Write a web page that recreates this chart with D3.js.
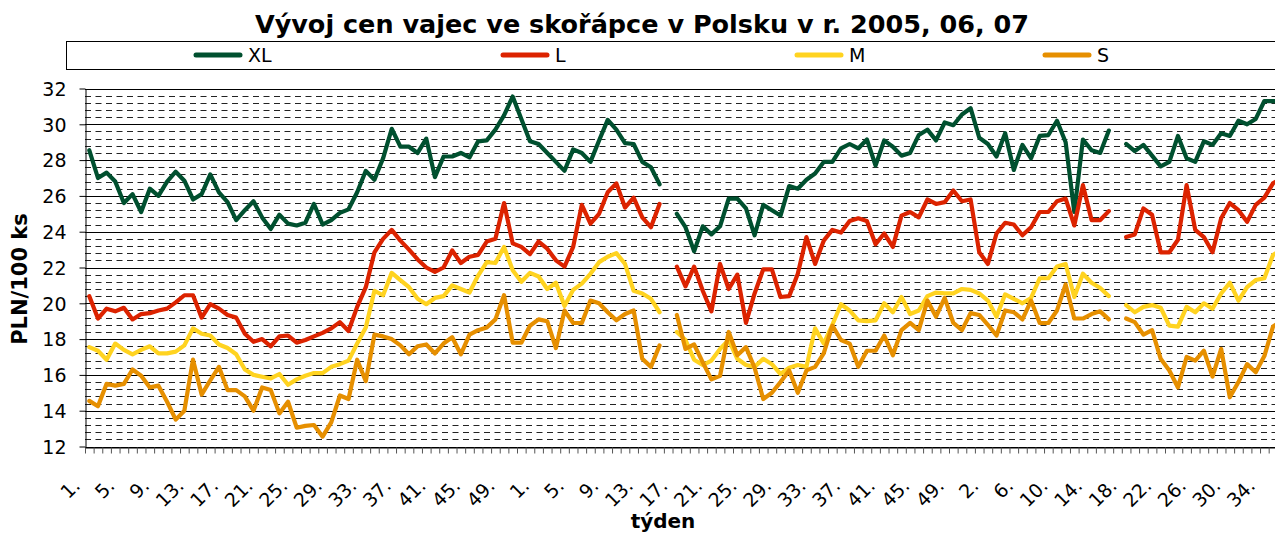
<!DOCTYPE html>
<html><head><meta charset="utf-8">
<script src="https://cdn.jsdelivr.net/npm/d3@7"></script>
<style>body{margin:0;background:#fff}svg{display:block}text{font-family:"DejaVu Sans",Verdana,sans-serif}</style>
</head><body><svg id="c" width="1275" height="533"></svg>
<script>
const title = "Vývoj cen vajec ve skořápce v Polsku v r. 2005, 06, 07";
const yTitle = "PLN/100 ks";
const xTitle = "týden";
const seriesNames = ["XL","L","M","S"];
const seriesColors = ["#00502F","#DC2300","#FFD320","#E68F00"];
const weeks2005 = d3.range(1,53);
const weeks2006 = d3.range(1,53);
const weeks2007 = d3.range(2,38);
const yTicks = [12,14,16,18,20,22,24,26,28,30,32];

const XL = [28.55,27.0,27.3,26.8,25.6,26.1,25.1,26.4,26.0,26.8,27.35,26.85,25.8,26.1,27.2,26.2,25.65,24.65,25.2,25.7,24.8,24.15,24.95,24.45,24.35,24.5,25.55,24.4,24.65,25.05,25.25,26.2,27.4,26.9,28.1,29.75,28.75,28.75,28.4,29.2,
27.05,28.2,28.2,28.4,28.15,29.05,29.1,29.7,30.5,31.55,30.3,29.05,28.9,28.4,27.9,27.4,28.6,28.4,27.9,29.1,30.25,29.7,28.95,28.9,27.9,27.6,26.65,null,25.0,24.25,
22.9,24.3,23.85,24.3,25.85,25.85,25.3,23.8,25.5,25.2,24.9,26.55,26.4,26.9,27.25,27.9,27.9,28.65,28.9,28.65,29.15,27.7,29.1,28.75,28.25,28.4,29.4,29.7,29.1,30.1,
29.95,30.55,30.9,29.25,28.9,28.2,29.5,27.45,28.85,28.1,29.35,29.4,30.2,29.0,25.1,29.15,28.55,28.4,29.65,null,28.9,28.5,28.85,28.25,27.65,27.9,29.35,28.1,27.9,29.05,
28.85,29.5,29.35,30.2,30.0,30.3,31.3,31.3,31.3];
const L = [20.4,19.15,19.7,19.55,19.75,19.1,19.4,19.45,19.6,19.7,20.05,20.45,20.45,19.2,19.95,19.7,19.35,19.2,18.3,17.85,18.0,17.6,18.15,18.2,17.8,17.95,18.15,18.35,18.6,18.95,18.45,19.8,20.9,22.85,23.6,24.1,23.5,23.0,22.45,22.0,
21.75,22.0,22.95,22.25,22.6,22.7,23.45,23.6,25.6,23.35,23.15,22.75,23.45,23.05,22.4,22.05,23.15,25.5,24.45,25.0,26.2,26.7,25.35,25.9,24.8,24.25,25.55,null,22.05,20.95,
22.05,20.7,19.55,22.2,20.8,21.6,18.9,20.55,21.9,21.9,20.35,20.4,21.65,23.7,22.2,23.5,24.1,23.95,24.6,24.75,24.6,23.3,23.9,23.15,24.9,25.1,24.8,25.8,25.55,25.65,
26.3,25.7,25.8,22.85,22.2,23.9,24.5,24.4,23.8,24.25,25.1,25.1,25.7,25.85,24.35,26.6,24.65,24.65,25.15,null,23.7,23.85,25.3,24.95,22.85,22.85,23.55,26.6,24.1,23.7,
22.85,24.75,25.6,25.2,24.55,25.5,25.9,26.7,27.0];
const M = [17.55,17.35,16.85,17.75,17.4,17.15,17.4,17.6,17.2,17.2,17.3,17.65,18.6,18.3,18.2,17.7,17.5,17.15,16.3,16.0,15.9,15.8,16.05,15.45,15.75,15.95,16.1,16.1,16.45,16.6,16.8,17.75,18.65,20.7,20.45,21.7,21.3,20.9,20.25,19.95,
20.3,20.4,21.0,20.8,20.6,21.55,22.3,22.25,23.15,21.85,21.2,21.7,21.5,20.8,21.15,19.85,20.75,21.1,21.65,22.3,22.6,22.8,22.2,20.7,20.55,20.25,19.5,null,18.4,17.95,
16.85,16.55,16.8,17.45,17.95,16.9,16.55,16.45,16.9,16.6,16.05,16.4,16.55,16.45,18.6,17.75,18.8,19.95,19.6,19.05,19.0,19.05,20.0,19.5,20.35,19.4,19.6,20.4,20.6,20.55,
20.55,20.8,20.75,20.55,20.15,19.25,20.5,20.25,20.0,20.3,21.4,21.4,22.05,22.2,20.35,21.65,21.15,20.85,20.4,null,19.9,19.5,19.8,19.9,19.75,18.75,18.7,19.8,19.5,20.0,
19.7,20.55,21.15,20.15,20.9,21.3,21.4,22.7,23.0];
const S = [14.55,14.25,15.5,15.4,15.5,16.3,15.95,15.3,15.4,14.5,13.5,14.0,16.85,14.9,15.7,16.45,15.15,15.15,14.8,14.0,15.3,15.15,13.85,14.5,13.05,13.15,13.2,12.55,13.35,14.85,14.65,16.85,15.65,18.25,18.15,18.0,17.65,17.15,17.6,17.7,
17.2,17.75,18.1,17.15,18.25,18.5,18.65,19.1,20.45,17.8,17.8,18.75,19.1,19.0,17.5,19.6,18.9,18.9,20.15,20.0,19.5,19.05,19.4,19.6,16.9,16.45,17.65,null,19.35,17.45,
17.7,16.7,15.75,15.95,18.4,17.1,17.55,16.4,14.65,15.0,15.6,16.25,15.0,16.25,16.45,17.2,18.75,17.95,17.75,16.45,17.35,17.35,18.2,17.1,18.5,18.9,18.5,20.15,19.25,20.3,
18.9,18.5,19.45,19.35,18.8,18.2,19.6,19.5,19.1,20.15,18.9,18.9,19.6,21.05,19.15,19.15,19.4,19.55,19.1,null,19.15,18.95,18.25,18.5,16.9,16.25,15.3,17.0,16.8,17.35,
15.9,17.45,14.75,15.6,16.6,16.15,17.05,18.7,19.0];

const weeks = weeks2005.concat(weeks2006, weeks2007);
const series = [XL, L, M, S];

const svg = d3.select("#c");
svg.append("rect").attr("width",1275).attr("height",533).attr("fill","#fff");

const pLeft = 85, pTop = 88.5, pBottom = 446.5, step = 8.64;
const n = weeks.length;
const pRight = pLeft + n*step;
const x = d3.scaleBand().domain(d3.range(n)).range([pLeft, pRight]).padding(0);
const xb = d3.scaleLinear().domain([0, n]).range([pLeft, pRight]);
const y = d3.scaleLinear().domain([12, 32]).range([pBottom, pTop]);

// minor grid (every 0.4)
const minor = d3.range(1, 50).filter(k => k % 5 !== 0).map(k => 12 + k*0.4);
svg.append("g").selectAll("line").data(minor).join("line")
  .attr("x1", pLeft).attr("x2", pRight)
  .attr("y1", d => Math.round(y(d)) + 0.5).attr("y2", d => Math.round(y(d)) + 0.5)
  .attr("stroke", "#222").attr("stroke-width", 1).attr("stroke-dasharray", "6,4.5");
// major grid
svg.append("g").selectAll("line").data(yTicks).join("line")
  .attr("x1", pLeft).attr("x2", pRight)
  .attr("y1", d => Math.round(y(d)) + 0.5).attr("y2", d => Math.round(y(d)) + 0.5)
  .attr("stroke", "#000").attr("stroke-width", 1);

// y axis
const ya = svg.append("g").attr("transform", `translate(${pLeft+0.5},0)`)
  .call(d3.axisLeft(y).tickValues(yTicks).tickSize(6).tickSizeOuter(0).tickFormat(d3.format("d")));
ya.select(".domain").attr("stroke", "#000");
ya.selectAll(".tick line").attr("stroke", "#000");
ya.selectAll("text").attr("font-size", 19).attr("fill", "#000").attr("x", -19).attr("dy", "0.36em");

// x axis ticks at category boundaries
const xa = svg.append("g").attr("transform", `translate(0,${Math.round(pBottom)+0.5})`)
  .call(d3.axisBottom(xb).tickValues(d3.range(0, n+1)).tickSize(6).tickSizeOuter(0).tickFormat(""));
xa.select(".domain").attr("stroke", "#000");
xa.selectAll(".tick line").attr("stroke", "#555");

// x labels every 4th category
const labelIdx = d3.range(0, n, 4);
const xl = svg.append("g").attr("transform", `translate(0,${Math.round(pBottom)})`)
  .call(d3.axisBottom(x).tickValues(labelIdx).tickSize(0).tickFormat(i => weeks[i] + "."));
xl.select(".domain").remove();
xl.selectAll("text").attr("font-size", 19).attr("fill", "#000")
  .attr("y", 0).attr("dy", 0).attr("text-anchor", "end")
  .attr("transform", "translate(-8,40) rotate(-45)");

// lines
const line = d3.line().defined(d => d != null).x((d, i) => x(i) + x.bandwidth()/2).y(d => y(d));
svg.append("g").selectAll("path").data(series).join("path")
  .attr("d", d => line(d)).attr("fill", "none")
  .attr("stroke", (d, i) => seriesColors[i]).attr("stroke-width", 4.2)
  .attr("stroke-linejoin", "round").attr("stroke-linecap", "round");

// title
svg.append("text").attr("x", 642).attr("y", 33).attr("text-anchor", "middle")
  .attr("font-size", 25.5).attr("font-weight", "bold").text(title);

// legend
svg.append("rect").attr("x", 66.5).attr("y", 41.5).attr("width", 1260).attr("height", 28)
  .attr("fill", "#fff").attr("stroke", "#000");
const legX = [196, 503, 797, 1045];
const lg = svg.append("g").selectAll("g").data(seriesNames).join("g")
  .attr("transform", (d, i) => `translate(${legX[i]},55)`);
lg.append("line").attr("x1", 0).attr("x2", 44).attr("stroke", (d, i) => seriesColors[i])
  .attr("stroke-width", 5).attr("stroke-linecap", "round");
lg.append("text").attr("x", 52).attr("y", 7).attr("font-size", 19).text(d => d);

// axis titles
svg.append("text").attr("transform", "translate(27,279) rotate(-90)").attr("text-anchor", "middle")
  .attr("font-size", 21).attr("font-weight", "bold").text(yTitle);
svg.append("text").attr("x", 663).attr("y", 528).attr("text-anchor", "middle")
  .attr("font-size", 20).attr("font-weight", "bold").text(xTitle);
</script></body></html>
